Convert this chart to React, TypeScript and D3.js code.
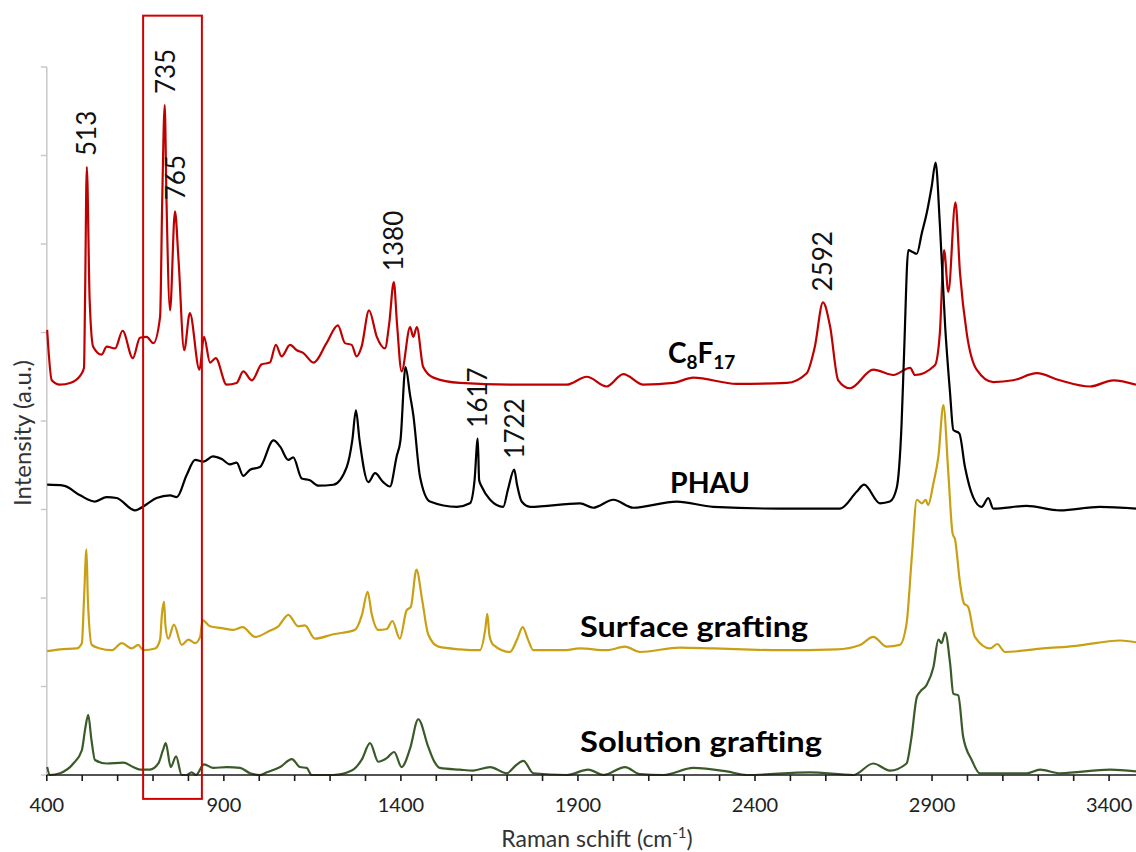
import React from "react";
import * as d3 from "d3";

type Pt = [number, number];

const X_TICKS: number[] = d3.range(400, 3401, 100);
const X_TICK_LABELS: number[] = [400, 900, 1400, 1900, 2400, 2900, 3400];
const Y_TICKS: number[] = [0, 1, 2, 3, 4, 5, 6, 7, 8];

const C8F17: Pt[] = [[401,5.03],[414,4.46],[437,4.41],[466,4.43],[494,4.51],[505,4.60],[508,5.37],[513,6.87],[521,5.37],[531,4.84],[555,4.75],[569,4.84],[593,4.82],[614,5.02],[643,4.71],[663,4.94],[682,4.95],[701,4.88],[720,5.18],[726,6.50],[733,7.57],[738,6.50],[748,5.25],[762,6.37],[772,5.82],[788,4.80],[804,5.22],[831,4.58],[844,4.95],[861,4.66],[877,4.71],[908,4.41],[936,4.43],[955,4.56],[979,4.46],[1007,4.64],[1030,4.66],[1047,4.86],[1063,4.73],[1087,4.86],[1106,4.80],[1124,4.77],[1153,4.66],[1190,4.88],[1222,5.08],[1242,4.88],[1261,4.86],[1275,4.73],[1289,4.84],[1310,5.25],[1332,4.95],[1355,4.82],[1367,5.10],[1380,5.57],[1389,5.10],[1402,4.56],[1426,5.06],[1435,4.95],[1445,5.06],[1463,4.61],[1492,4.49],[1567,4.43],[1717,4.41],[1868,4.41],[1925,4.50],[1981,4.39],[2028,4.53],[2085,4.41],[2169,4.43],[2226,4.49],[2348,4.42],[2490,4.43],[2546,4.54],[2569,4.84],[2592,5.34],[2612,5.07],[2635,4.46],[2668,4.37],[2734,4.58],[2791,4.52],[2838,4.60],[2852,4.52],[2908,4.63],[2922,4.99],[2934,5.93],[2946,5.46],[2966,6.47],[2979,5.67],[2998,4.99],[3026,4.58],[3073,4.44],[3129,4.46],[3196,4.54],[3261,4.46],[3346,4.39],[3412,4.46],[3476,4.41]];

const PHAU: Pt[] = [[401,3.28],[447,3.27],[494,3.16],[536,3.09],[569,3.14],[597,3.13],[649,2.99],[682,3.06],[710,3.13],[748,3.16],[767,3.14],[795,3.39],[819,3.56],[842,3.54],[869,3.60],[894,3.57],[917,3.51],[936,3.53],[955,3.38],[974,3.45],[1002,3.48],[1040,3.78],[1059,3.71],[1082,3.56],[1096,3.59],[1120,3.35],[1143,3.33],[1167,3.27],[1209,3.28],[1247,3.48],[1263,3.79],[1273,4.12],[1283,3.79],[1308,3.31],[1327,3.41],[1350,3.31],[1369,3.26],[1388,3.60],[1399,3.79],[1413,4.61],[1426,4.29],[1435,4.07],[1454,3.37],[1482,3.09],[1558,3.03],[1595,3.07],[1608,3.33],[1617,3.80],[1621,3.33],[1628,3.26],[1652,3.11],[1689,3.03],[1702,3.22],[1720,3.45],[1728,3.28],[1741,3.09],[1765,3.03],[1906,3.07],[1943,3.02],[2000,3.11],[2056,3.02],[2179,3.09],[2282,3.03],[2471,3.01],[2640,3.01],[2687,3.20],[2708,3.28],[2753,3.07],[2781,3.09],[2800,3.24],[2814,3.97],[2821,4.76],[2833,5.93],[2845,5.91],[2857,5.89],[2871,6.12],[2885,6.35],[2899,6.65],[2910,6.92],[2922,6.23],[2937,5.07],[2951,4.31],[2960,3.90],[2977,3.86],[2993,3.48],[3016,3.14],[3040,3.03],[3059,3.13],[3073,3.01],[3167,3.04],[3261,2.99],[3374,3.03],[3476,3.01]];

const SURFACE: Pt[] = [[401,1.40],[437,1.42],[484,1.43],[499,1.49],[505,1.98],[512,2.55],[516,1.98],[527,1.47],[550,1.43],[583,1.41],[612,1.49],[640,1.43],[658,1.47],[673,1.41],[706,1.43],[720,1.53],[725,1.81],[731,1.96],[735,1.69],[743,1.54],[759,1.70],[781,1.47],[800,1.53],[819,1.49],[833,1.56],[840,1.75],[861,1.68],[894,1.66],[927,1.64],[953,1.67],[988,1.56],[1030,1.63],[1054,1.68],[1082,1.81],[1110,1.68],[1129,1.69],[1157,1.54],[1209,1.59],[1270,1.64],[1290,1.81],[1306,2.07],[1318,1.81],[1336,1.64],[1360,1.65],[1376,1.74],[1397,1.54],[1416,1.86],[1428,1.90],[1444,2.32],[1460,1.98],[1477,1.59],[1506,1.45],[1567,1.42],[1623,1.41],[1638,1.64],[1644,1.82],[1650,1.58],[1661,1.47],[1708,1.39],[1728,1.53],[1744,1.67],[1759,1.53],[1774,1.41],[1859,1.41],[1906,1.43],[1981,1.41],[2033,1.45],[2075,1.39],[2188,1.44],[2282,1.43],[2471,1.41],[2631,1.42],[2697,1.47],[2734,1.56],[2772,1.45],[2809,1.47],[2828,1.71],[2843,2.47],[2857,3.11],[2871,3.07],[2882,3.11],[2889,3.05],[2904,3.30],[2918,3.60],[2932,4.18],[2946,3.41],[2958,2.73],[2965,2.66],[2979,2.17],[2990,1.94],[3002,1.90],[3021,1.56],[3064,1.43],[3084,1.48],[3106,1.39],[3214,1.43],[3308,1.46],[3431,1.52],[3476,1.50]];

const SOLUTION: Pt[] = [[401,0.09],[409,0],[437,0.02],[475,0.13],[499,0.28],[508,0.51],[517,0.68],[526,0.40],[536,0.17],[569,0.13],[616,0.14],[644,0.09],[663,0.06],[691,0.06],[715,0.13],[728,0.28],[736,0.36],[750,0.09],[765,0.21],[781,0],[795,0],[809,0.03],[821,0],[844,0.12],[870,0.08],[908,0.09],[946,0.08],[974,0.02],[1002,0],[1021,0.03],[1059,0.09],[1092,0.18],[1115,0.09],[1134,0.08],[1148,0],[1209,0],[1261,0.05],[1289,0.17],[1313,0.36],[1336,0.15],[1360,0.19],[1381,0.26],[1402,0.09],[1426,0.30],[1449,0.63],[1477,0.32],[1492,0.17],[1510,0.08],[1567,0.06],[1604,0.05],[1652,0.09],[1699,0.02],[1725,0.11],[1746,0.16],[1774,0.02],[1868,0],[1929,0.06],[1972,0],[2033,0.09],[2075,0.01],[2141,0],[2226,0.08],[2320,0.04],[2377,0],[2555,0.03],[2678,0],[2734,0.13],[2781,0.05],[2828,0.13],[2841,0.40],[2857,0.88],[2866,0.94],[2885,1.02],[2904,1.22],[2918,1.53],[2927,1.49],[2937,1.61],[2951,1.26],[2960,0.92],[2974,0.90],[2988,0.43],[3012,0.17],[3035,0.02],[3167,0.02],[3205,0.06],[3261,0.02],[3403,0.06],[3476,0.04]];

const SERIES_NAMES: string[] = ["C8F17", "PHAU", "Surface grafting", "Solution grafting"];
const SERIES_DATA: Pt[][] = [C8F17, PHAU, SURFACE, SOLUTION];
const SERIES_COLORS: string[] = ["#c00000", "#000000", "#c9a014", "#3a5a28"];

const PEAK_LABELS: string[] = ["513", "735", "765", "1380", "1617", "1722", "2592"];
const PEAK_SERIES: number[] = [0, 0, 0, 0, 1, 1, 0];

// highlighted region (wavenumber span and intensity span)
const BOX_WN: [number, number] = [672, 838];
const BOX_I: [number, number] = [-0.27, 8.58];

const W = 1136;
const H = 852;
const FONT = "Lato, 'Open Sans', sans-serif";

export default function App() {
  const x = d3.scaleLinear().domain([400, 3500]).range([46.8, 1144.5]);
  const y = d3.scaleLinear().domain([0, 8]).range([775, 67]);
  const line = d3
    .line<Pt>()
    .x((d) => x(d[0]))
    .y((d) => y(d[1]))
    .curve(d3.curveMonotoneX);

  const peakY = (label: string, si: number) => {
    const wn = +label;
    const pts = SERIES_DATA[si].filter((p) => Math.abs(p[0] - wn) <= 20);
    return d3.max(pts, (p) => p[1]) as number;
  };

  // label anchors in data units (wavenumber, intensity)
  const labelPos: [number, number][] = [
    [2154, 4.66],
    [2160, 3.19],
    [1906, 1.56],
    [1906, 0.26],
  ];
  const labelLen = [69, 80, 228, 242];

  return (
    <svg
      width={W}
      height={H}
      style={{ position: "absolute", left: 0, top: 0, background: "#fff" }}
      fontFamily={FONT}
    >
      <rect x={0} y={0} width={W} height={H} fill="#fff" />
      {/* y axis */}
      <line x1={x(400)} x2={x(400)} y1={y(8)} y2={y(0)} stroke="#c8c8c8" strokeWidth={1.5} />
      {Y_TICKS.map((t) => (
        <line key={t} x1={x(400) - 6} x2={x(400)} y1={y(t)} y2={y(t)} stroke="#c8c8c8" strokeWidth={1.5} />
      ))}
      {/* series */}
      {SERIES_DATA.map((d, i) => (
        <path key={i} d={line(d) || ""} fill="none" stroke={SERIES_COLORS[i]} strokeWidth={2.2} strokeLinejoin="round" />
      ))}
      {/* x axis */}
      <line x1={x(400)} x2={W} y1={y(0)} y2={y(0)} stroke="#1a1a1a" strokeWidth={1.6} />
      {X_TICKS.map((t) => (
        <line key={t} x1={x(t)} x2={x(t)} y1={y(0)} y2={y(0) + 6} stroke="#1a1a1a" strokeWidth={1.6} />
      ))}
      {X_TICK_LABELS.map((t) => (
        <text key={t} x={x(t)} y={812} textAnchor="middle" fontSize={20} fill="#222">
          {t}
        </text>
      ))}
      <text x={597} y={847} textAnchor="middle" fontSize={23} fill="#333">
        Raman schift (cm
        <tspan dy={-9} fontSize={15}>-1</tspan>
        <tspan dy={9}>)</tspan>
      </text>
      <text
        transform={`translate(23,433) rotate(-90)`}
        textAnchor="middle"
        dy="0.35em"
        fontSize={24}
        fill="#333"
      >
        Intensity (a.u.)
      </text>
      {/* peak labels */}
      {PEAK_LABELS.map((l, i) => {
        const px = x(+l);
        const py = y(peakY(l, PEAK_SERIES[i])) - 11;
        return (
          <text
            key={l}
            transform={`translate(${px},${py}) rotate(-90)`}
            dy="0.35em"
            textAnchor="start"
            fontSize={26}
            fill="#111"
          >
            {l}
          </text>
        );
      })}
      {/* series labels */}
      <text x={x(labelPos[0][0])} y={y(labelPos[0][1])} fontSize={28} fontWeight="bold" fill="#000">
        C<tspan dy={6} fontSize={19}>8</tspan>
        <tspan dy={-6}>F</tspan>
        <tspan dy={6} fontSize={19}>17</tspan>
      </text>
      {[1, 2, 3].map((i) => (
        <text
          key={i}
          x={x(labelPos[i][0])}
          y={y(labelPos[i][1])}
          fontSize={28}
          fontWeight="bold"
          fill="#000"
          textLength={labelLen[i]}
          lengthAdjust="spacingAndGlyphs"
        >
          {SERIES_NAMES[i]}
        </text>
      ))}
      {/* highlight box */}
      <rect
        x={x(BOX_WN[0])}
        y={y(BOX_I[1])}
        width={x(BOX_WN[1]) - x(BOX_WN[0])}
        height={y(BOX_I[0]) - y(BOX_I[1])}
        fill="none"
        stroke="#d40000"
        strokeWidth={2}
      />
    </svg>
  );
}
